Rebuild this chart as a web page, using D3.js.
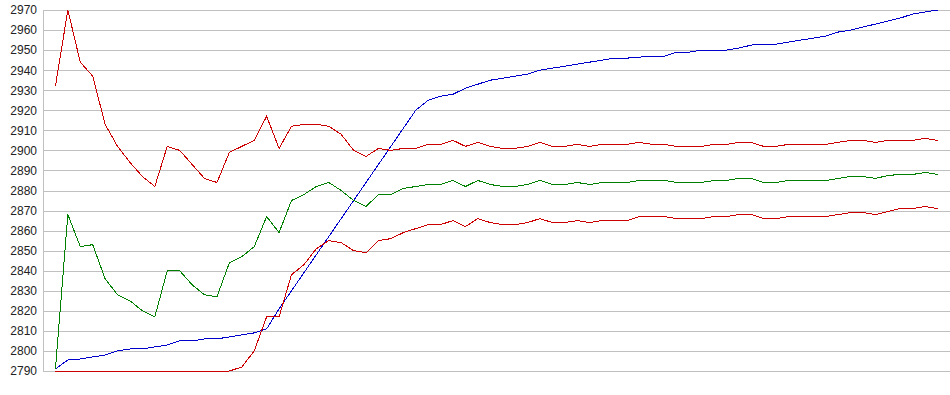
<!DOCTYPE html>
<html>
<head>
<meta charset="utf-8">
<script src="https://cdn.jsdelivr.net/npm/d3@7"></script>
<style>
  body { margin: 0; background: #fff; }
  svg { display: block; }
  .yAxis text { font-family: "Liberation Sans", Arial, sans-serif; font-size: 12px; fill: #222; }
  .yAxis line, .yAxis path { stroke: #c0c0c0; }
</style>
</head>
<body>
<script>
// y axis tick labels
let yTicks = [2790, 2800, 2810, 2820, 2830, 2840, 2850, 2860, 2870, 2880, 2890, 2900, 2910, 2920, 2930, 2940, 2950, 2960, 2970];

// series values, one per step (72 steps)
let blueValues = [2791, 2795.5, 2796, 2797, 2798, 2800, 2801, 2801, 2802, 2803, 2805, 2805, 2806, 2806, 2807, 2808, 2809, 2811,
    2821, 2830, 2839, 2848, 2857, 2866, 2875, 2884, 2893, 2902, 2911, 2920, 2925, 2927, 2928, 2931, 2933, 2935,
    2936, 2937, 2938, 2940, 2941, 2942, 2943, 2944, 2945, 2946, 2946, 2946.5, 2947, 2947, 2949, 2949, 2950, 2950,
    2950, 2951, 2952.5, 2953, 2953, 2954, 2955, 2956, 2957, 2959, 2960, 2961.5, 2963, 2964.5, 2966, 2968, 2969, 2970];

let upperRedValues = [2932, 2970, 2944, 2937, 2913, 2902, 2894, 2887, 2882, 2902, 2900, 2893, 2886, 2884, 2899, 2902, 2905, 2917,
    2901, 2912, 2913, 2913, 2912, 2908, 2900, 2897, 2901, 2900, 2901, 2901, 2903, 2903, 2905, 2902, 2904, 2902,
    2901, 2901, 2902, 2904, 2902, 2902, 2903, 2902, 2903, 2903, 2903, 2904, 2903, 2903, 2902, 2902, 2902, 2903,
    2903, 2904, 2904, 2902, 2902, 2903, 2903, 2903, 2903, 2904, 2905, 2905, 2904, 2905, 2905, 2905, 2906, 2905];

let greenValues = [2791, 2868, 2852, 2853, 2836, 2828, 2825, 2820, 2817, 2840, 2840, 2833, 2828, 2827, 2844, 2847, 2852, 2867,
    2859, 2875, 2878, 2882, 2884, 2880, 2875, 2872, 2878, 2878, 2881, 2882, 2883, 2883, 2885, 2882, 2885, 2883,
    2882, 2882, 2883, 2885, 2883, 2883, 2884, 2883, 2884, 2884, 2884, 2885, 2885, 2885, 2884, 2884, 2884, 2885,
    2885, 2886, 2886, 2884, 2884, 2885, 2885, 2885, 2885, 2886, 2887, 2887, 2886, 2887.5, 2888, 2888, 2889, 2888];

let lowerRedValues = [2790, 2790, 2790, 2790, 2790, 2790, 2790, 2790, 2790, 2790, 2790, 2790, 2790, 2790, 2790, 2792, 2800, 2817,
    2817, 2838, 2843, 2851, 2855, 2854, 2850, 2849, 2855, 2856, 2859, 2861, 2863, 2863, 2865, 2862, 2866, 2864,
    2863, 2863, 2864, 2866, 2864, 2864, 2865, 2864, 2865, 2865, 2865, 2867, 2867, 2867, 2866, 2866, 2866, 2867,
    2867, 2868, 2868, 2866, 2866, 2867, 2867, 2867, 2867, 2868, 2869, 2869, 2868, 2869.5, 2871, 2871, 2872, 2871];

let seriesColors = ["#0000cc", "#cc0000", "#008000", "#cc0000"];

let width = 950, height = 395;
let plotLeft = 43, plotRight = 950, plotTop = 10, plotBottom = 371;

let svg = d3.select("body")
    .append("svg")
        .attr("width", width)
        .attr("height", height);

let steps = d3.range(blueValues.length);

// points sit one step in from each edge
let xScale = d3.scalePoint()
    .domain(steps)
    .range([plotLeft, plotRight])
    .padding(1);

let yScale = d3.scaleLinear()
    .domain([2790, 2970])
    .range([plotBottom, plotTop]);

let yAxis = d3.axisLeft()
    .scale(yScale)
    .tickValues(yTicks)
    .tickFormat(d3.format("d"))
    .tickSize(-(plotRight - plotLeft))
    .tickSizeOuter(0)
    .tickPadding(6);

svg.append("g")
    .attr("class", "yAxis")
    .attr("transform", `translate(${plotLeft}, 0)`)
    .style("shape-rendering", "crispEdges")
    .call(yAxis);

let line = d3.line()
    .x((d, i) => xScale(i))
    .y(d => yScale(d));

let series = [blueValues, upperRedValues, greenValues, lowerRedValues];

svg.selectAll("path.series")
    .data(series)
    .enter()
        .append("path")
            .attr("class", "series")
            .attr("d", line)
            .attr("fill", "none")
            .attr("stroke", (d, i) => seriesColors[i])
            .attr("stroke-width", 1)
            .style("shape-rendering", "crispEdges");
</script>
</body>
</html>
